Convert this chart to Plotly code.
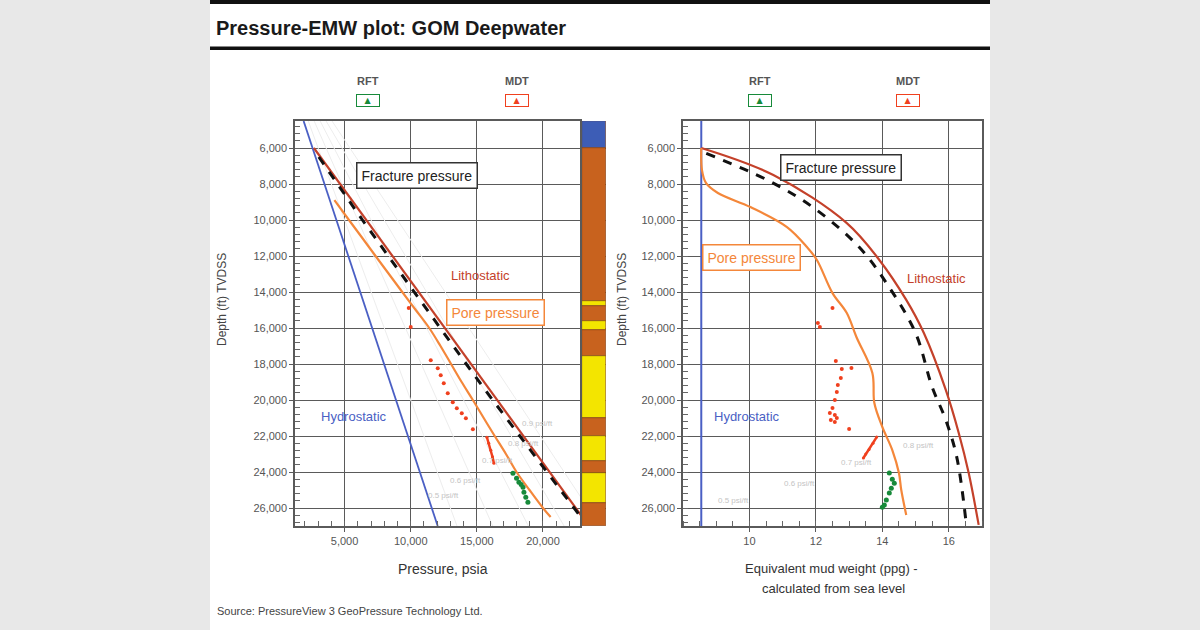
import plotly.graph_objects as go

W, H = 1200, 630
def fx(x): return x / W
def fy(y): return 1 - y / H

# ---------------- data: left panel (pressure, psia vs depth, ft) ----------------
hydro_depth = [4500, 27000]
hydro_psi = [1900, 12040]

litho_depth = [6000, 8000, 10000, 12000, 14000, 16000, 18000, 20000, 22000, 24000, 26000, 27000]
litho_psi = [2680, 4660, 6640, 8620, 10600, 12580, 14560, 16540, 18520, 20500, 22480, 23470]

frac_depth = [6500, 8000, 10000, 12000, 14000, 16000, 18000, 20000, 22000, 24000, 26000, 27000]
frac_psi = [3050, 4450, 6350, 8300, 10250, 12200, 14200, 16200, 18250, 20300, 22350, 23380]

pore_depth = [8900, 10000, 11000, 12000, 13000, 14000, 15000, 16000, 17000, 18000, 19000, 20000,
              21000, 22000, 23000, 24000, 25000, 26000, 26500]
pore_psi = [4230, 5330, 6340, 7340, 8350, 9360, 10380, 11400, 12250, 13050, 13850, 14700,
            15520, 16350, 17200, 18000, 18980, 20000, 20580]

mdt_depth = [14890, 15950, 17790, 18230, 18620, 19070, 19620, 20120, 20460, 20730, 21010, 21620]
mdt_psi = [9850, 10000, 11515, 12045, 12270, 12500, 12800, 13180, 13485, 13860, 14170, 14700]

mdt_seg_depth = [22070, 22400, 22790, 23150, 23510]
mdt_seg_psi = [15760, 15900, 16060, 16180, 16290]

rft_depth = [24070, 24350, 24570, 24700, 24850, 25130, 25400, 25680]
rft_psi = [17730, 18000, 18180, 18350, 18490, 18560, 18700, 18860]

grad_labels = ["0.5 psi/ft", "0.6 psi/ft", "0.7 psi/ft", "0.8 psi/ft", "0.9 psi/ft"]
grad_top_psi = [2250, 2700, 3150, 3600, 4050]
grad_bot_psi = [13500, 16200, 18900, 21600, 24300]
grad_depth_ends = [4500, 27000]
grad_lbl_psi = [12500, 14170, 16590, 18560, 19620]
grad_lbl_depth = [25290, 24460, 23350, 22400, 21290]

# lithology column
lith_top = [4500, 6000, 14480, 14760, 15620, 16100, 17570, 21000, 22020, 23410, 24060, 25720]
lith_bot = [6000, 14480, 14760, 15620, 16100, 17570, 21000, 22020, 23410, 24060, 25720, 27000]
lith_type = ["water", "shale", "sand", "shale", "sand", "shale", "sand", "shale", "sand", "shale", "sand", "shale"]
lith_colors = {"water": "#3d5db6", "shale": "#c8621e", "sand": "#f3e500"}

# ---------------- data: right panel (EMW, ppg vs depth, ft) ----------------
hydro_emw = [8.55, 8.55]

litho_emw_depth = [6000, 7500, 10170, 12220, 14440, 16280, 19440, 21830, 24060, 26940]
litho_emw = [8.55, 10.72, 12.93, 13.91, 14.72, 15.25, 15.91, 16.30, 16.60, 16.90]

frac_emw_depth = [6300, 7780, 9280, 11500, 13720, 16280, 19280, 21110, 23170, 26800]
frac_emw = [8.70, 10.54, 11.90, 13.30, 14.20, 15.00, 15.50, 15.91, 16.24, 16.52]

pore_emw_depth = [6000, 7220, 7940, 8500, 9280, 10390, 11500, 12220, 14060, 15170, 16500,
                  18500, 20170, 21500, 22780, 24060, 25000, 26390]
pore_emw = [8.55, 8.57, 8.69, 9.05, 10.03, 11.13, 11.73, 12.03, 12.50, 12.93, 13.22,
            13.70, 13.76, 14.00, 14.30, 14.50, 14.57, 14.72]

mdt_emw_depth = [14890, 15720, 15940, 17830, 18280, 18220, 18780, 19170, 19560, 20000, 20440,
                 20720, 20830, 21000, 21110, 21220, 21610]
mdt_emw = [12.50, 12.06, 12.12, 12.60, 12.78, 13.07, 12.75, 12.66, 12.63, 12.57, 12.50,
           12.42, 12.57, 12.63, 12.45, 12.57, 13.00]

mdt_seg_emw_depth = [22060, 22400, 22750, 23000, 23220]
mdt_seg_emw = [13.83, 13.72, 13.60, 13.50, 13.43]

rft_emw_depth = [24060, 24400, 24620, 24900, 25170, 25560, 25830, 25960]
rft_emw = [14.21, 14.30, 14.36, 14.27, 14.21, 14.12, 14.06, 14.00]

emw_grad_labels = ["0.8 psi/ft", "0.7 psi/ft", "0.6 psi/ft", "0.5 psi/ft"]
emw_grad_lbl_x = [15.10, 13.22, 11.52, 9.52]
emw_grad_lbl_depth = [22510, 23460, 24620, 25570]

depth_ticks = list(range(6000, 26001, 2000))
psi_ticks = [5000, 10000, 15000, 20000]
emw_ticks = [10, 12, 14, 16]

# colours
C_HYD = "#4a5fc4"
C_LIT = "#c4412a"
C_PORE = "#f4873a"
C_MDT = "#f0401e"
C_RFT = "#178a3a"
C_GRID = "#5a5a5a"

fig = go.Figure()

# gradient reference lines (left)
for lbl, p0, p1 in zip(grad_labels, grad_top_psi, grad_bot_psi):
    fig.add_trace(go.Scatter(x=[p0, p1], y=grad_depth_ends, mode="lines",
                             line=dict(color="#ededed", width=1), xaxis="x", yaxis="y"))

# left panel curves
fig.add_trace(go.Scatter(x=hydro_psi, y=hydro_depth, mode="lines",
                         line=dict(color=C_HYD, width=1.8), xaxis="x", yaxis="y"))
fig.add_trace(go.Scatter(x=litho_psi, y=litho_depth, mode="lines",
                         line=dict(color=C_LIT, width=2.2), xaxis="x", yaxis="y"))
fig.add_trace(go.Scatter(x=frac_psi, y=frac_depth, mode="lines",
                         line=dict(color="#111111", width=3, dash="dash"), xaxis="x", yaxis="y"))
fig.add_trace(go.Scatter(x=pore_psi, y=pore_depth, mode="lines", line_shape="spline",
                         line=dict(color=C_PORE, width=2.2), xaxis="x", yaxis="y"))
fig.add_trace(go.Scatter(x=mdt_psi, y=mdt_depth, mode="markers",
                         marker=dict(color=C_MDT, size=4), xaxis="x", yaxis="y"))
fig.add_trace(go.Scatter(x=mdt_seg_psi, y=mdt_seg_depth, mode="lines+markers",
                         line=dict(color=C_MDT, width=2.5), marker=dict(color=C_MDT, size=3),
                         xaxis="x", yaxis="y"))
fig.add_trace(go.Scatter(x=rft_psi, y=rft_depth, mode="markers",
                         marker=dict(color=C_RFT, size=5), xaxis="x", yaxis="y"))

# lithology column
fig.add_trace(go.Bar(x=[0.5] * len(lith_top),
                     y=[b - t for t, b in zip(lith_top, lith_bot)],
                     base=lith_top, width=1,
                     marker=dict(color=[lith_colors[t] for t in lith_type],
                                 line=dict(color="#7a3a10", width=0.6)),
                     xaxis="x3", yaxis="y"))

# right panel curves
fig.add_trace(go.Scatter(x=hydro_emw, y=hydro_depth, mode="lines",
                         line=dict(color=C_HYD, width=2), xaxis="x2", yaxis="y2"))
fig.add_trace(go.Scatter(x=litho_emw, y=litho_emw_depth, mode="lines", line_shape="spline",
                         line=dict(color=C_LIT, width=2.2), xaxis="x2", yaxis="y2"))
fig.add_trace(go.Scatter(x=frac_emw, y=frac_emw_depth, mode="lines", line_shape="spline",
                         line=dict(color="#111111", width=3, dash="dash"), xaxis="x2", yaxis="y2"))
fig.add_trace(go.Scatter(x=pore_emw, y=pore_emw_depth, mode="lines", line_shape="spline",
                         line=dict(color=C_PORE, width=2.2), xaxis="x2", yaxis="y2"))
fig.add_trace(go.Scatter(x=mdt_emw, y=mdt_emw_depth, mode="markers",
                         marker=dict(color=C_MDT, size=4), xaxis="x2", yaxis="y2"))
fig.add_trace(go.Scatter(x=mdt_seg_emw, y=mdt_seg_emw_depth, mode="lines+markers",
                         line=dict(color=C_MDT, width=2.5), marker=dict(color=C_MDT, size=3),
                         xaxis="x2", yaxis="y2"))
fig.add_trace(go.Scatter(x=rft_emw, y=rft_emw_depth, mode="markers",
                         marker=dict(color=C_RFT, size=5), xaxis="x2", yaxis="y2"))

tickfont = dict(family="Liberation Sans, Arial, sans-serif", size=11, color="#555555")
common_x = dict(showgrid=True, gridcolor=C_GRID, gridwidth=1.4, showline=True, linecolor=C_GRID,
                linewidth=1.5, mirror=True, zeroline=False, ticks="outside", ticklen=4,
                tickcolor=C_GRID, tickfont=tickfont,
                minor=dict(ticks="inside", ticklen=5, tickcolor="#666666", showgrid=False))
common_y = dict(showgrid=True, gridcolor=C_GRID, gridwidth=1.4, showline=True, linecolor=C_GRID,
                linewidth=1.5, mirror=True, zeroline=False, ticks="outside", ticklen=4,
                tickcolor=C_GRID, tickfont=tickfont, range=[27000, 4500],
                tickvals=depth_ticks, ticktext=[f"{d:,}" for d in depth_ticks],
                minor=dict(ticks="inside", ticklen=5, tickcolor="#666666", dtick=400, tick0=0,
                           showgrid=False),
                domain=[fy(526), fy(121)])

fig.update_layout(
    width=W, height=H, margin=dict(l=0, r=0, t=0, b=0),
    paper_bgcolor="#e8e8e8", plot_bgcolor="white", showlegend=False, bargap=0,
    xaxis=dict(common_x, domain=[fx(295), fx(580)], range=[1250, 22800], anchor="y",
               tickvals=psi_ticks, ticktext=[f"{v:,}" for v in psi_ticks],
               minor=dict(ticks="inside", ticklen=5, tickcolor="#666666", dtick=1000, tick0=0,
                          showgrid=False)),
    yaxis=dict(common_y, anchor="x"),
    xaxis2=dict(common_x, domain=[fx(683), fx(982)], range=[8, 17], anchor="y2",
                tickvals=emw_ticks, ticktext=[str(v) for v in emw_ticks],
                minor=dict(ticks="inside", ticklen=5, tickcolor="#666666", dtick=0.5, tick0=0,
                           showgrid=False)),
    yaxis2=dict(common_y, anchor="x2"),
    xaxis3=dict(domain=[fx(582), fx(606)], range=[0, 1], anchor="y", visible=False,
                showgrid=False, zeroline=False),
)

shapes = [
    dict(type="rect", xref="paper", yref="paper", x0=fx(210), x1=fx(990), y0=0, y1=1,
         fillcolor="white", line=dict(width=0), layer="below"),
    dict(type="rect", xref="paper", yref="paper", x0=fx(210), x1=fx(990), y0=fy(4), y1=fy(0),
         fillcolor="#111111", line=dict(width=0)),
    dict(type="rect", xref="paper", yref="paper", x0=fx(210), x1=fx(990), y0=fy(50), y1=fy(46.5),
         fillcolor="#111111", line=dict(width=0)),
]
fig.update_layout(shapes=shapes)

FONT = "Liberation Sans, Arial, sans-serif"
ann = []
# title & source
ann.append(dict(xref="paper", yref="paper", x=fx(214), y=fy(28), xanchor="left", yanchor="middle",
                text="<b>Pressure-EMW plot: GOM Deepwater</b>", showarrow=False,
                font=dict(family=FONT, size=20, color="#1a1a1a")))
ann.append(dict(xref="paper", yref="paper", x=fx(215), y=fy(611), xanchor="left", yanchor="middle",
                text="Source: PressureView 3 GeoPressure Technology Ltd.", showarrow=False,
                font=dict(family=FONT, size=11, color="#444444")))

# axis titles
for xc in (222, 622):
    ann.append(dict(xref="paper", yref="paper", x=fx(xc), y=fy(300), textangle=-90,
                    xanchor="center", yanchor="middle",
                    text="Depth (ft) TVDSS", showarrow=False,
                    font=dict(family=FONT, size=12, color="#444444")))
ann.append(dict(xref="paper", yref="paper", x=fx(443), y=fy(569), text="Pressure, psia",
                xanchor="center", yanchor="middle",
                showarrow=False, font=dict(family=FONT, size=14, color="#333333")))
ann.append(dict(xref="paper", yref="paper", x=fx(831), y=fy(568),
                xanchor="center", yanchor="middle",
                text="Equivalent mud weight (ppg) -",
                showarrow=False, font=dict(family=FONT, size=13, color="#333333")))
ann.append(dict(xref="paper", yref="paper", x=fx(833), y=fy(588),
                xanchor="center", yanchor="middle",
                text="calculated from sea level",
                showarrow=False, font=dict(family=FONT, size=13, color="#333333")))

# legends
for xc, lbl, col in [(368, "RFT", C_RFT), (517, "MDT", C_MDT), (760, "RFT", C_RFT), (908, "MDT", C_MDT)]:
    ann.append(dict(xref="paper", yref="paper", x=fx(xc), y=fy(81), text=f"<b>{lbl}</b>",
                    xanchor="center", yanchor="middle",
                    showarrow=False, font=dict(family=FONT, size=11, color="#555555")))
    ann.append(dict(xref="paper", yref="paper", x=fx(xc), y=fy(101), text="▲",
                    xanchor="center", yanchor="middle",
                    showarrow=False, width=20, height=9, bgcolor="white", bordercolor=col,
                    borderwidth=1, borderpad=1, font=dict(family="DejaVu Sans", size=8, color=col)))

# curve labels left
ann.append(dict(xref="x", yref="y", x=10455, y=7500, text="Fracture pressure", showarrow=False,
                bgcolor="white", bordercolor="#333333", borderwidth=1.5, borderpad=4,
                font=dict(family=FONT, size=14, color="#222222")))
ann.append(dict(xref="x", yref="y", x=15300, y=13060, text="Lithostatic", showarrow=False,
                font=dict(family=FONT, size=13, color=C_LIT)))
ann.append(dict(xref="x", yref="y", x=16440, y=15120, text="Pore pressure", showarrow=False,
                bgcolor="white", bordercolor=C_PORE, borderwidth=1.5, borderpad=4,
                font=dict(family=FONT, size=14, color=C_PORE)))
ann.append(dict(xref="x", yref="y", x=5680, y=20900, text="Hydrostatic", showarrow=False,
                font=dict(family=FONT, size=13, color=C_HYD)))
for lbl, xv, yv in zip(grad_labels, grad_lbl_psi, grad_lbl_depth):
    ann.append(dict(xref="x", yref="y", x=xv, y=yv, text=lbl, showarrow=False,
                    font=dict(family=FONT, size=8, color="#c4c4c4")))

# curve labels right
ann.append(dict(xref="x2", yref="y2", x=12.75, y=7110, text="Fracture pressure", showarrow=False,
                bgcolor="white", bordercolor="#333333", borderwidth=1.5, borderpad=4,
                font=dict(family=FONT, size=14, color="#222222")))
ann.append(dict(xref="x2", yref="y2", x=10.06, y=12060, text="Pore pressure", showarrow=False,
                bgcolor="white", bordercolor=C_PORE, borderwidth=1.5, borderpad=4,
                font=dict(family=FONT, size=14, color=C_PORE)))
ann.append(dict(xref="x2", yref="y2", x=15.64, y=13230, text="Lithostatic", showarrow=False,
                font=dict(family=FONT, size=13, color=C_LIT)))
ann.append(dict(xref="x2", yref="y2", x=9.94, y=20900, text="Hydrostatic", showarrow=False,
                font=dict(family=FONT, size=13, color=C_HYD)))
for lbl, xv, yv in zip(emw_grad_labels, emw_grad_lbl_x, emw_grad_lbl_depth):
    ann.append(dict(xref="x2", yref="y2", x=xv, y=yv, text=lbl, showarrow=False,
                    font=dict(family=FONT, size=8, color="#c4c4c4")))

fig.update_layout(annotations=ann)
fig.write_html("out.html")
